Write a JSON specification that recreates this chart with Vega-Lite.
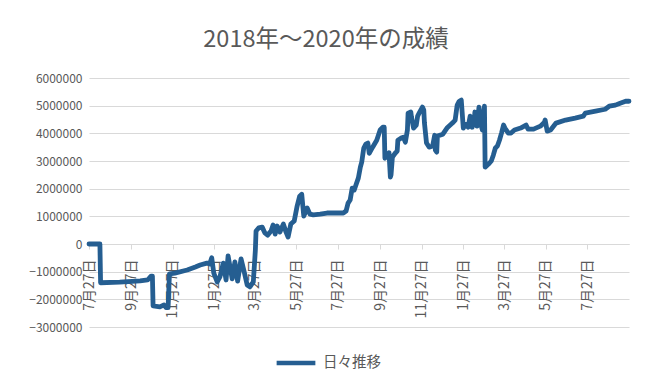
{
  "$schema": "https://vega.github.io/schema/vega-lite/v6.json",
  "autosize": {"type": "none"},
  "width": 540,
  "height": 249,
  "padding": {"left": 89, "top": 78, "right": 22, "bottom": 63},
  "background": "white",
  "title": {
    "text": "2018年～2020年の成績",
    "font": "Noto Sans CJK JP",
    "fontSize": 23.5,
    "fontWeight": "normal",
    "color": "#595959",
    "anchor": "middle",
    "frame": "group",
    "baseline": "alphabetic",
    "dx": -33,
    "offset": 2
  },
  "data": {
    "values": [
      {"date": "2018-07-27", "value": 0},
      {"date": "2018-08-12", "value": 0},
      {"date": "2018-08-13", "value": -1400000},
      {"date": "2018-09-10", "value": -1380000},
      {"date": "2018-10-10", "value": -1330000},
      {"date": "2018-10-21", "value": -1300000},
      {"date": "2018-10-26", "value": -1160000},
      {"date": "2018-10-28", "value": -1160000},
      {"date": "2018-10-29", "value": -2240000},
      {"date": "2018-11-08", "value": -2270000},
      {"date": "2018-11-14", "value": -2200000},
      {"date": "2018-11-17", "value": -2300000},
      {"date": "2018-11-20", "value": -2300000},
      {"date": "2018-11-22", "value": -1080000},
      {"date": "2018-11-30", "value": -1050000},
      {"date": "2018-12-18", "value": -940000},
      {"date": "2018-12-30", "value": -830000},
      {"date": "2019-01-06", "value": -760000},
      {"date": "2019-01-16", "value": -690000},
      {"date": "2019-01-20", "value": -720000},
      {"date": "2019-01-23", "value": -500000},
      {"date": "2019-01-26", "value": -1050000},
      {"date": "2019-01-31", "value": -1370000},
      {"date": "2019-02-04", "value": -1190000},
      {"date": "2019-02-09", "value": -690000},
      {"date": "2019-02-13", "value": -1300000},
      {"date": "2019-02-16", "value": -430000},
      {"date": "2019-02-22", "value": -1260000},
      {"date": "2019-02-26", "value": -650000},
      {"date": "2019-03-02", "value": -1340000},
      {"date": "2019-03-07", "value": -540000},
      {"date": "2019-03-11", "value": -940000},
      {"date": "2019-03-16", "value": -1480000},
      {"date": "2019-03-20", "value": -1550000},
      {"date": "2019-03-25", "value": -1370000},
      {"date": "2019-03-28", "value": -220000},
      {"date": "2019-03-29", "value": 470000},
      {"date": "2019-04-02", "value": 580000},
      {"date": "2019-04-07", "value": 610000},
      {"date": "2019-04-11", "value": 400000},
      {"date": "2019-04-15", "value": 320000},
      {"date": "2019-04-20", "value": 470000},
      {"date": "2019-04-23", "value": 690000},
      {"date": "2019-04-26", "value": 360000},
      {"date": "2019-04-29", "value": 650000},
      {"date": "2019-05-03", "value": 430000},
      {"date": "2019-05-08", "value": 720000},
      {"date": "2019-05-12", "value": 430000},
      {"date": "2019-05-15", "value": 250000},
      {"date": "2019-05-19", "value": 720000},
      {"date": "2019-05-24", "value": 830000},
      {"date": "2019-05-28", "value": 1340000},
      {"date": "2019-06-01", "value": 1730000},
      {"date": "2019-06-04", "value": 1800000},
      {"date": "2019-06-07", "value": 1010000},
      {"date": "2019-06-12", "value": 1300000},
      {"date": "2019-06-16", "value": 1080000},
      {"date": "2019-06-21", "value": 1050000},
      {"date": "2019-07-01", "value": 1080000},
      {"date": "2019-07-11", "value": 1120000},
      {"date": "2019-08-04", "value": 1120000},
      {"date": "2019-08-08", "value": 1190000},
      {"date": "2019-08-11", "value": 1480000},
      {"date": "2019-08-14", "value": 1590000},
      {"date": "2019-08-17", "value": 2020000},
      {"date": "2019-08-20", "value": 1950000},
      {"date": "2019-08-23", "value": 2170000},
      {"date": "2019-08-26", "value": 2380000},
      {"date": "2019-08-29", "value": 2780000},
      {"date": "2019-08-31", "value": 2960000},
      {"date": "2019-09-03", "value": 3470000},
      {"date": "2019-09-06", "value": 3610000},
      {"date": "2019-09-09", "value": 3650000},
      {"date": "2019-09-11", "value": 3280000},
      {"date": "2019-09-16", "value": 3500000},
      {"date": "2019-09-22", "value": 3750000},
      {"date": "2019-09-27", "value": 4120000},
      {"date": "2019-10-01", "value": 4220000},
      {"date": "2019-10-03", "value": 4220000},
      {"date": "2019-10-04", "value": 3100000},
      {"date": "2019-10-07", "value": 3210000},
      {"date": "2019-10-10", "value": 3300000},
      {"date": "2019-10-12", "value": 2420000},
      {"date": "2019-10-13", "value": 2500000},
      {"date": "2019-10-15", "value": 3140000},
      {"date": "2019-10-19", "value": 3280000},
      {"date": "2019-10-22", "value": 3360000},
      {"date": "2019-10-23", "value": 3750000},
      {"date": "2019-10-28", "value": 3830000},
      {"date": "2019-10-31", "value": 3860000},
      {"date": "2019-11-03", "value": 3680000},
      {"date": "2019-11-06", "value": 4120000},
      {"date": "2019-11-07", "value": 4730000},
      {"date": "2019-11-11", "value": 4770000},
      {"date": "2019-11-12", "value": 4580000},
      {"date": "2019-11-15", "value": 4190000},
      {"date": "2019-11-19", "value": 4300000},
      {"date": "2019-11-21", "value": 4620000},
      {"date": "2019-11-24", "value": 4770000},
      {"date": "2019-11-28", "value": 4950000},
      {"date": "2019-11-30", "value": 4840000},
      {"date": "2019-12-01", "value": 4370000},
      {"date": "2019-12-04", "value": 3650000},
      {"date": "2019-12-08", "value": 3500000},
      {"date": "2019-12-13", "value": 3540000},
      {"date": "2019-12-16", "value": 3930000},
      {"date": "2019-12-17", "value": 3390000},
      {"date": "2019-12-19", "value": 3320000},
      {"date": "2019-12-20", "value": 3900000},
      {"date": "2019-12-28", "value": 3970000},
      {"date": "2020-01-03", "value": 4190000},
      {"date": "2020-01-11", "value": 4370000},
      {"date": "2020-01-15", "value": 4480000},
      {"date": "2020-01-18", "value": 5020000},
      {"date": "2020-01-21", "value": 5160000},
      {"date": "2020-01-24", "value": 5200000},
      {"date": "2020-01-27", "value": 4190000},
      {"date": "2020-01-30", "value": 4330000},
      {"date": "2020-02-03", "value": 4220000},
      {"date": "2020-02-06", "value": 4620000},
      {"date": "2020-02-09", "value": 4220000},
      {"date": "2020-02-12", "value": 4480000},
      {"date": "2020-02-13", "value": 4770000},
      {"date": "2020-02-16", "value": 4260000},
      {"date": "2020-02-19", "value": 4950000},
      {"date": "2020-02-22", "value": 4300000},
      {"date": "2020-02-24", "value": 4120000},
      {"date": "2020-02-27", "value": 4980000},
      {"date": "2020-02-28", "value": 2780000},
      {"date": "2020-03-04", "value": 2890000},
      {"date": "2020-03-08", "value": 3000000},
      {"date": "2020-03-11", "value": 3210000},
      {"date": "2020-03-14", "value": 3470000},
      {"date": "2020-03-17", "value": 3540000},
      {"date": "2020-03-20", "value": 3750000},
      {"date": "2020-03-23", "value": 4010000},
      {"date": "2020-03-26", "value": 4300000},
      {"date": "2020-03-28", "value": 4190000},
      {"date": "2020-04-02", "value": 4010000},
      {"date": "2020-04-06", "value": 4010000},
      {"date": "2020-04-11", "value": 4120000},
      {"date": "2020-04-20", "value": 4190000},
      {"date": "2020-04-28", "value": 4300000},
      {"date": "2020-05-01", "value": 4150000},
      {"date": "2020-05-09", "value": 4150000},
      {"date": "2020-05-19", "value": 4260000},
      {"date": "2020-05-25", "value": 4400000},
      {"date": "2020-05-26", "value": 4480000},
      {"date": "2020-05-29", "value": 4080000},
      {"date": "2020-06-03", "value": 4120000},
      {"date": "2020-06-11", "value": 4370000},
      {"date": "2020-06-25", "value": 4480000},
      {"date": "2020-07-09", "value": 4550000},
      {"date": "2020-07-21", "value": 4620000},
      {"date": "2020-07-24", "value": 4730000},
      {"date": "2020-08-08", "value": 4800000},
      {"date": "2020-08-22", "value": 4870000},
      {"date": "2020-08-28", "value": 4980000},
      {"date": "2020-09-06", "value": 5020000},
      {"date": "2020-09-13", "value": 5090000},
      {"date": "2020-09-21", "value": 5160000},
      {"date": "2020-09-26", "value": 5160000}
    ]
  },
  "mark": {"type": "line", "strokeWidth": 4.8, "strokeJoin": "round", "strokeCap": "round"},
  "encoding": {
    "x": {
      "field": "date",
      "type": "temporal",
      "scale": {"domain": [{"year": 2018, "month": 7, "date": 27}, {"year": 2020, "month": 9, "date": 26}], "nice": false},
      "axis": {
        "title": null,
        "values": [
          {"year": 2018, "month": 7, "date": 27},
          {"year": 2018, "month": 9, "date": 27},
          {"year": 2018, "month": 11, "date": 27},
          {"year": 2019, "month": 1, "date": 27},
          {"year": 2019, "month": 3, "date": 27},
          {"year": 2019, "month": 5, "date": 27},
          {"year": 2019, "month": 7, "date": 27},
          {"year": 2019, "month": 9, "date": 27},
          {"year": 2019, "month": 11, "date": 27},
          {"year": 2020, "month": 1, "date": 27},
          {"year": 2020, "month": 3, "date": 27},
          {"year": 2020, "month": 5, "date": 27},
          {"year": 2020, "month": 7, "date": 27}
        ],
        "format": "%-m月%-d日",
        "labelAngle": 270,
        "labelFont": "Noto Sans CJK JP",
        "labelFontSize": 14,
        "labelColor": "#595959",
        "labelPadding": 10,
        "labelOverlap": false,
        "grid": false,
        "domain": true,
        "domainColor": "#D9D9D9",
        "tickColor": "#D9D9D9",
        "tickSize": 5,
        "offset": -83
      }
    },
    "y": {
      "field": "value",
      "type": "quantitative",
      "scale": {"domain": [-3000000, 6000000], "nice": false, "zero": false},
      "axis": {
        "title": null,
        "values": [-3000000, -2000000, -1000000, 0, 1000000, 2000000, 3000000, 4000000, 5000000, 6000000],
        "format": "d",
        "labelFont": "Noto Sans CJK JP",
        "labelFontSize": 12,
        "labelColor": "#595959",
        "labelPadding": 7,
        "domain": false,
        "ticks": false,
        "grid": true,
        "gridColor": "#D9D9D9",
        "gridWidth": 1
      }
    },
    "color": {
      "datum": "日々推移",
      "type": "nominal",
      "scale": {"range": ["#255E91"]},
      "legend": {
        "title": null,
        "orient": "none",
        "legendX": 185,
        "legendY": 263,
        "symbolType": "stroke",
        "symbolSize": 1500,
        "symbolStrokeWidth": 4.5,
        "labelFont": "Noto Sans CJK JP",
        "labelFontSize": 14.5,
        "labelColor": "#595959",
        "labelOffset": 5
      }
    }
  },
  "config": {
    "view": {"stroke": null}
  }
}
